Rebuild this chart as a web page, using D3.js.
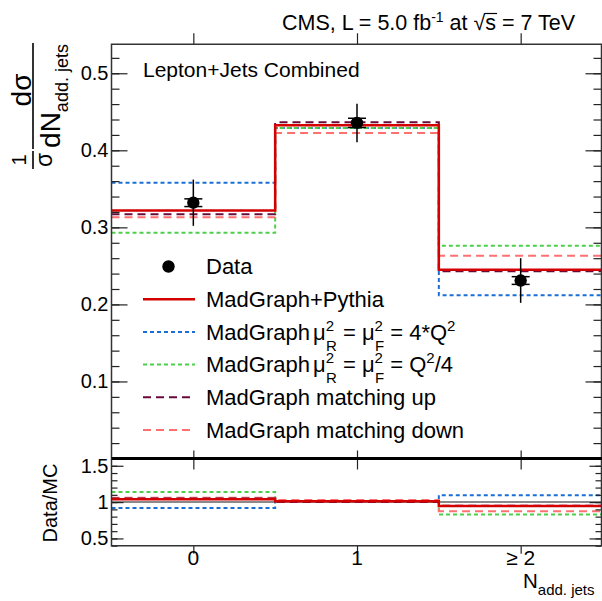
<!DOCTYPE html>
<html>
<head>
<meta charset="utf-8">
<script src="https://cdn.jsdelivr.net/npm/d3@7"></script>
<style>
  html, body { margin: 0; padding: 0; background: #fff; }
  svg { display: block; font-family: 'Liberation Sans', Arial, sans-serif; }
</style>
</head>
<body>
<svg id="chart" width="602" height="601"></svg>
<script>
// Bins and tick labels
const categories = ['0', '1', '\u2265 2'];
const mainTicks = [0.1, 0.2, 0.3, 0.4, 0.5];
const ratioTicks = [0.5, 1, 1.5];

// Data: normalised cross section with total and stat errors
const dataValues = [0.332, 0.4356, 0.231];
const dataTotalErr = [0.030, 0.025, 0.029];
const dataStatErr = [0.005, 0.006, 0.005];

// Predictions
const madgraphPythia = [0.322, 0.4325, 0.245];
const scaleUp = [0.358, 0.429, 0.212];       // mu^2 = 4*Q^2
const scaleDown = [0.293, 0.429, 0.276];     // mu^2 = Q^2/4
const matchingUp = [0.317, 0.4364, 0.243];
const matchingDown = [0.313, 0.4226, 0.263];

// Data/MC ratios
const ratioData = [1, 1, 1];
const ratioMadgraphPythia = [1.04, 1.01, 0.945];
const ratioScaleUp = [0.92, 1.015, 1.095];
const ratioScaleDown = [1.14, 1.015, 0.83];
const ratioMatchingUp = [1.05, 1.0, 0.95];
const ratioMatchingDown = [1.06, 1.03, 0.875];

// Layout
const frame = { left: 111.5, right: 601.5, top: 44.3, mid: 458.5, bottom: 545.7 };
const font = "'Liberation Sans', Arial, sans-serif";

const svg = d3.select('#chart');

// Scales
const x = d3.scaleLinear().domain([-0.5, 2.5]).range([frame.left, 602.5]);
const yMain = d3.scaleLinear().domain([0, 0.5376]).range([frame.mid, frame.top]);
const yRatio = d3.scaleLinear().domain([0.4, 1.6]).range([frame.bottom, frame.mid]);

// Line styles
const styles = {
  nominal: { stroke: '#d40000', width: 2.5, dash: null },
  scaleUp: { stroke: '#1a6fd6', width: 2, dash: '4,3' },
  scaleDown: { stroke: '#4cd04c', width: 2, dash: '4,3' },
  matchUp: { stroke: '#6a0a3c', width: 2, dash: '8,5' },
  matchDown: { stroke: '#ff7070', width: 2, dash: '8,5' },
  dataRatio: { stroke: '#8a8a8a', width: 2, dash: null },
};

// Clip paths
const defs = svg.append('defs');
defs.append('clipPath').attr('id', 'clip-main').append('rect')
  .attr('x', frame.left).attr('y', frame.top)
  .attr('width', frame.right - frame.left).attr('height', frame.mid - frame.top);
defs.append('clipPath').attr('id', 'clip-ratio').append('rect')
  .attr('x', frame.left).attr('y', frame.mid)
  .attr('width', frame.right - frame.left).attr('height', frame.bottom - frame.mid);

// Step histogram path
function stepPath(values, yScale) {
  const pts = values.map((v, i) => [i - 0.5, v]).concat([[values.length - 0.5, values[values.length - 1]]]);
  return d3.line()
    .x(d => x(d[0]))
    .y(d => yScale(d[1]))
    .curve(d3.curveStepAfter)(pts);
}

function drawHist(g, values, yScale, st) {
  g.append('path')
    .attr('d', stepPath(values, yScale))
    .attr('fill', 'none')
    .attr('stroke', st.stroke)
    .attr('stroke-width', st.width)
    .attr('stroke-dasharray', st.dash);
}

// Main panel histograms
const gMain = svg.append('g').attr('clip-path', 'url(#clip-main)');
drawHist(gMain, scaleUp, yMain, styles.scaleUp);
drawHist(gMain, scaleDown, yMain, styles.scaleDown);
drawHist(gMain, matchingDown, yMain, styles.matchDown);
drawHist(gMain, matchingUp, yMain, styles.matchUp);
drawHist(gMain, madgraphPythia, yMain, styles.nominal);

// Ratio panel histograms
const gRatio = svg.append('g').attr('clip-path', 'url(#clip-ratio)');
drawHist(gRatio, ratioData, yRatio, styles.dataRatio);
drawHist(gRatio, ratioScaleUp, yRatio, styles.scaleUp);
drawHist(gRatio, ratioScaleDown, yRatio, styles.scaleDown);
drawHist(gRatio, ratioMatchingDown, yRatio, styles.matchDown);
drawHist(gRatio, ratioMatchingUp, yRatio, styles.matchUp);
drawHist(gRatio, ratioMadgraphPythia, yRatio, styles.nominal);

// Data points
const gData = svg.append('g');
dataValues.forEach((v, i) => {
  const cx = x(i);
  gData.append('line')
    .attr('x1', cx).attr('x2', cx)
    .attr('y1', yMain(v + dataTotalErr[i])).attr('y2', yMain(v - dataTotalErr[i]))
    .attr('stroke', '#000').attr('stroke-width', 1.5);
  [v + dataStatErr[i], v - dataStatErr[i]].forEach(e => {
    gData.append('line')
      .attr('x1', cx - 9).attr('x2', cx + 9)
      .attr('y1', yMain(e)).attr('y2', yMain(e))
      .attr('stroke', '#000').attr('stroke-width', 1.5);
  });
  gData.append('circle').attr('cx', cx).attr('cy', yMain(v)).attr('r', 6.2).attr('fill', '#000');
});

// Axes helpers
function yAxes(yScale, major, minor, majorLen, minorLen) {
  const left = svg.append('g').attr('transform', `translate(${frame.left},0)`);
  left.call(d3.axisLeft(yScale).tickValues(minor).tickSize(-minorLen).tickFormat(''));
  const leftMajor = svg.append('g').attr('transform', `translate(${frame.left},0)`);
  leftMajor.call(d3.axisLeft(yScale).tickValues(major).tickSize(-majorLen).tickPadding(3)
    .tickFormat(d => (d === 1 ? '1' : d3.format('.1f')(d))));
  const right = svg.append('g').attr('transform', `translate(${frame.right},0)`);
  right.call(d3.axisRight(yScale).tickValues(minor).tickSize(-minorLen).tickFormat(''));
  right.call(g => g.append('g').call(d3.axisRight(yScale).tickValues(major).tickSize(-majorLen).tickFormat('')));
  [left, leftMajor, right].forEach(g => {
    g.selectAll('.domain').remove();
    g.selectAll('line').attr('stroke', '#222').attr('stroke-width', 1.2);
    g.selectAll('text').attr('font-family', font).attr('font-size', 20).attr('fill', '#000');
  });
}

const mainMinor = d3.range(0.02, 0.535, 0.02).map(d => +d.toFixed(2));
yAxes(yMain, mainTicks, mainMinor, 16, 8);
const ratioMinor = d3.range(0.4, 1.601, 0.1).map(d => +d.toFixed(1));
yAxes(yRatio, ratioTicks, ratioMinor, 12, 6);

// X ticks (top and bottom of each panel)
function xTicks(yPos, len) {
  const g = svg.append('g').attr('transform', `translate(0,${yPos})`);
  const axis = len > 0 ? d3.axisTop(x) : d3.axisBottom(x);
  g.call(axis.tickValues([0, 1, 2]).tickSize(-Math.abs(len)).tickFormat(''));
  g.selectAll('.domain').remove();
  g.selectAll('line').attr('stroke', '#222').attr('stroke-width', 1.2);
}
xTicks(frame.top, -11);
xTicks(frame.mid, 11);
xTicks(frame.mid, -8);
xTicks(frame.bottom, 8);

// Category labels
svg.append('g').selectAll('text').data(categories).join('text')
  .attr('x', (d, i) => x(i))
  .attr('y', 565)
  .attr('text-anchor', 'middle')
  .attr('font-size', 21)
  .text(d => d);

// Frames
svg.append('path')
  .attr('d', `M${frame.left},${frame.mid}V${frame.top}H${frame.right}V${frame.mid}`)
  .attr('fill', 'none').attr('stroke', '#333').attr('stroke-width', 1.5);
svg.append('path')
  .attr('d', `M${frame.left},${frame.mid}V${frame.bottom}H${frame.right}V${frame.mid}`)
  .attr('fill', 'none').attr('stroke', '#333').attr('stroke-width', 1.5);
svg.append('line')
  .attr('x1', frame.left).attr('x2', 602)
  .attr('y1', frame.mid).attr('y2', frame.mid)
  .attr('stroke', '#000').attr('stroke-width', 3);

// Rich text helper: parts = [{t, size, dx, dy}]
function richText(sel, parts, baseSize) {
  parts.forEach(p => {
    sel.append('tspan')
      .attr('font-size', p.size || baseSize)
      .attr('dx', p.dx || null)
      .attr('dy', p.dy || null)
      .text(p.t);
  });
  return sel;
}

// Title
const title = svg.append('text').attr('x', 282).attr('y', 30).attr('font-size', 21.5);
richText(title, [
  { t: 'CMS, L = 5.0 fb' },
  { t: '-1', size: 14, dy: -8 },
  { t: ' at \u221A', dy: 8 },
  { t: 's' },
  { t: ' = 7 TeV' },
], 21.5);
{
  const node = title.node();
  const full = node.textContent;
  const si = full.lastIndexOf('s', full.indexOf(' = 7'));
  const s0 = node.getStartPositionOfChar(si);
  const s1 = node.getEndPositionOfChar(si);
  svg.append('line')
    .attr('x1', s0.x - 1).attr('x2', s1.x + 1)
    .attr('y1', 13.5).attr('y2', 13.5)
    .attr('stroke', '#000').attr('stroke-width', 1.2);
}

// Panel label
svg.append('text').attr('x', 143).attr('y', 77).attr('font-size', 21).text('Lepton+Jets Combined');

// Legend
const sub = 15;
const legendItems = [
  { type: 'data', parts: [{ t: 'Data' }] },
  { type: 'nominal', parts: [{ t: 'MadGraph+Pythia' }] },
  { type: 'scaleUp', parts: [
    { t: 'MadGraph' }, { t: '\u03BC', dx: 3 }, { t: '2', size: sub, dy: -9 }, { t: 'R', size: sub, dx: -8, dy: 20 },
    { t: ' = \u03BC', dy: -11 }, { t: '2', size: sub, dy: -9 }, { t: 'F', size: sub, dx: -8, dy: 20 },
    { t: ' = 4*Q', dy: -11 }, { t: '2', size: sub, dy: -9 },
  ] },
  { type: 'scaleDown', parts: [
    { t: 'MadGraph' }, { t: '\u03BC', dx: 3 }, { t: '2', size: sub, dy: -9 }, { t: 'R', size: sub, dx: -8, dy: 20 },
    { t: ' = \u03BC', dy: -11 }, { t: '2', size: sub, dy: -9 }, { t: 'F', size: sub, dx: -8, dy: 20 },
    { t: ' = Q', dy: -11 }, { t: '2', size: sub, dy: -9 }, { t: '/4', dy: 9 },
  ] },
  { type: 'matchUp', parts: [{ t: 'MadGraph matching up' }] },
  { type: 'matchDown', parts: [{ t: 'MadGraph matching down' }] },
];
const legend = svg.append('g');
legendItems.forEach((item, i) => {
  const cy = 266.5 + i * 32.7;
  if (item.type === 'data') {
    legend.append('circle').attr('cx', 168.5).attr('cy', cy).attr('r', 6.2).attr('fill', '#000');
  } else {
    const st = styles[item.type];
    legend.append('line')
      .attr('x1', 143).attr('x2', 195).attr('y1', cy).attr('y2', cy)
      .attr('stroke', st.stroke).attr('stroke-width', st.width)
      .attr('stroke-dasharray', st.dash);
  }
  const t = legend.append('text').attr('x', 206).attr('y', cy + 7.8).attr('font-size', 22);
  richText(t, item.parts, 22);
});

// Y axis title (main)
const yTitle = svg.append('g').attr('transform', 'translate(0,170) rotate(-90)');
yTitle.append('text').attr('x', 10).attr('y', 26).attr('text-anchor', 'middle').attr('font-size', 20).text('1');
yTitle.append('line').attr('x1', 1).attr('x2', 19).attr('y1', 33).attr('y2', 33).attr('stroke', '#000').attr('stroke-width', 1.6);
yTitle.append('text').attr('x', 10).attr('y', 52).attr('text-anchor', 'middle').attr('font-size', 23).text('\u03C3');
yTitle.append('text').attr('x', 80).attr('y', 31).attr('text-anchor', 'middle').attr('font-size', 28).text('d\u03C3');
yTitle.append('line').attr('x1', 21).attr('x2', 127).attr('y1', 33).attr('y2', 33).attr('stroke', '#000').attr('stroke-width', 1.6);
const den = yTitle.append('text').attr('x', 74).attr('y', 60).attr('text-anchor', 'middle').attr('font-size', 28);
richText(den, [{ t: 'dN' }, { t: 'add. jets', size: 18, dy: 8 }], 28);

// Y axis title (ratio)
svg.append('text')
  .attr('transform', 'translate(57,503) rotate(-90)')
  .attr('text-anchor', 'middle')
  .attr('font-size', 20)
  .text('Data/MC');

// X axis title
const xTitle = svg.append('text').attr('x', 523).attr('y', 588).attr('font-size', 20.5);
richText(xTitle, [{ t: 'N' }, { t: 'add. jets', size: 15, dy: 7 }], 20.5);
</script>
</body>
</html>
